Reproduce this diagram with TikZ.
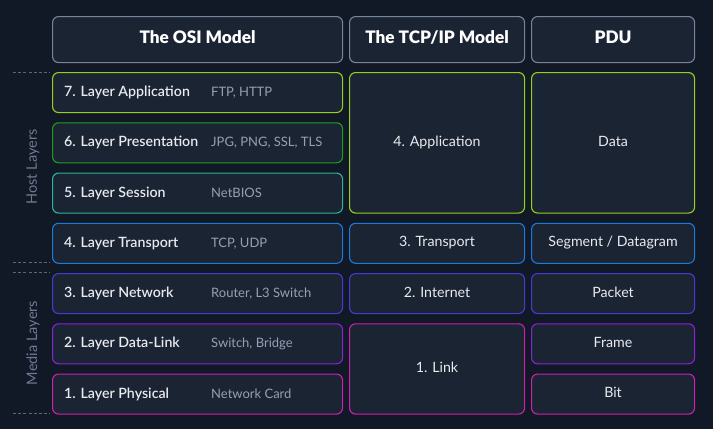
\documentclass[tikz,border=0pt]{standalone}
\usepackage{fontspec}
\setmainfont{Lato}
\newfontfamily\headfont{Lato Black}
\newfontfamily\midfont{Lato Semibold}
\definecolor{bg}{HTML}{111826}
\definecolor{cellfill}{HTML}{1B2433}
\definecolor{headline}{HTML}{7A8499}
\definecolor{cSeven}{HTML}{95D11C}
\definecolor{cSix}{HTML}{1F9E22}
\definecolor{cFive}{HTML}{2DB49A}
\definecolor{cFour}{HTML}{1C7AD8}
\definecolor{cThree}{HTML}{4A3AD2}
\definecolor{cTwo}{HTML}{8A22D8}
\definecolor{cOne}{HTML}{D01EB2}
\definecolor{maintext}{HTML}{E8EAEE}
\definecolor{subtext}{HTML}{97A0B3}
\definecolor{sidetext}{HTML}{6E7A90}
\definecolor{dashcol}{HTML}{5C6679}
\tikzset{
  cell/.style={draw, fill=cellfill, rounded corners=6pt, line width=1.1pt,
    anchor=north west, inner sep=0pt},
  header/.style={cell, draw=headline, minimum height=46pt},
  osi/.style={cell, minimum width=290pt, minimum height=40pt},
  tcp/.style={cell, minimum width=175pt},
  pdu/.style={cell, minimum width=163pt},
  headtext/.style={font=\headfont\fontsize{17.2}{19}\selectfont, text=white,
    text height=0.72em, text depth=0pt, inner sep=0pt},
  lbl/.style={font=\midfont\fontsize{14.2}{16}\selectfont, text=maintext, anchor=west,
    text height=0.72em, text depth=0pt, inner sep=0pt},
  sub/.style={font=\fontsize{13}{15}\selectfont, text=subtext, anchor=west,
    text height=0.72em, text depth=0pt, inner sep=0pt},
  ctr/.style={font=\fontsize{14.2}{16}\selectfont, text=maintext,
    text height=0.72em, text depth=0pt, inner sep=0pt},
  side/.style={font=\fontsize{14.5}{16}\selectfont, text=sidetext, rotate=90},
  dashline/.style={draw=dashcol, line width=0.9pt, dash pattern=on 3pt off 2.2pt},
}
\begin{document}
\begin{tikzpicture}[x=1pt, y=-1pt]
  % canvas
  \fill[bg] (0,0) rectangle (713,429);
  \useasboundingbox (0,0) rectangle (713,429);

  % column headers
  \node[header, minimum width=290pt] (hOSI) at (52,16) {};
  \node[header, minimum width=175pt] (hTCP) at (349,16) {};
  \node[header, minimum width=163pt] (hPDU) at (531,16) {};
  \node[headtext] (hOSIt) at (hOSI.center) {The OSI Model};
  \node[headtext] (hTCPt) at (hTCP.center) {The TCP/IP Model};
  \node[headtext] (hPDUt) at (hPDU.center) {PDU};

  % OSI layers
  \node[osi, draw=cSeven] (l7) at (52,72) {};
  \node[osi, draw=cSix]   (l6) at (52,122.25) {};
  \node[osi, draw=cFive]  (l5) at (52,172.5) {};
  \node[osi, draw=cFour]  (l4) at (52,222.75) {};
  \node[osi, draw=cThree] (l3) at (52,273) {};
  \node[osi, draw=cTwo]   (l2) at (52,323.25) {};
  \node[osi, draw=cOne]   (l1) at (52,373.5) {};

  \node[lbl] (l7a) at ([xshift=12pt, yshift=-0.5pt]l7.west) {7. Layer Application};
  \node[lbl] (l6a) at ([xshift=12pt, yshift=-0.5pt]l6.west) {6. Layer Presentation};
  \node[lbl] (l5a) at ([xshift=12pt, yshift=-0.5pt]l5.west) {5. Layer Session};
  \node[lbl] (l4a) at ([xshift=12pt, yshift=-0.5pt]l4.west) {4. Layer Transport};
  \node[lbl] (l3a) at ([xshift=12pt, yshift=-0.5pt]l3.west) {3. Layer Network};
  \node[lbl] (l2a) at ([xshift=12pt, yshift=-0.5pt]l2.west) {2. Layer Data-Link};
  \node[lbl] (l1a) at ([xshift=12pt, yshift=-0.5pt]l1.west) {1. Layer Physical};

  \node[sub] (l7b) at ([xshift=159pt, yshift=-0.5pt]l7.west) {FTP, HTTP};
  \node[sub] (l6b) at ([xshift=159pt, yshift=-0.5pt]l6.west) {JPG, PNG, SSL, TLS};
  \node[sub] (l5b) at ([xshift=159pt, yshift=-0.5pt]l5.west) {NetBIOS};
  \node[sub] (l4b) at ([xshift=159pt, yshift=-0.5pt]l4.west) {TCP, UDP};
  \node[sub] (l3b) at ([xshift=159pt, yshift=-0.5pt]l3.west) {Router, L3 Switch};
  \node[sub] (l2b) at ([xshift=159pt, yshift=-0.5pt]l2.west) {Switch, Bridge};
  \node[sub] (l1b) at ([xshift=159pt, yshift=-0.5pt]l1.west) {Network Card};

  % TCP/IP layers
  \node[tcp, draw=cSeven, minimum height=140.5pt] (tApp) at (349,72) {};
  \node[tcp, draw=cFour,  minimum height=40pt]    (tTra) at (349,222.75) {};
  \node[tcp, draw=cThree, minimum height=40pt]    (tInt) at (349,273) {};
  \node[tcp, draw=cOne,   minimum height=90.25pt] (tLnk) at (349,323.25) {};
  \node[ctr] (tAppt) at (tApp.center) {4. Application};
  \node[ctr] (tTrat) at (tTra.center) {3. Transport};
  \node[ctr] (tIntt) at (tInt.center) {2. Internet};
  \node[ctr] (tLnkt) at (tLnk.center) {1. Link};

  % protocol data units
  \node[pdu, draw=cSeven, minimum height=140.5pt] (pDat) at (531,72) {};
  \node[pdu, draw=cFour,  minimum height=40pt] (pSeg) at (531,222.75) {};
  \node[pdu, draw=cThree, minimum height=40pt] (pPkt) at (531,273) {};
  \node[pdu, draw=cTwo,   minimum height=40pt] (pFrm) at (531,323.25) {};
  \node[pdu, draw=cOne,   minimum height=40pt] (pBit) at (531,373.5) {};
  \node[ctr] (pDatt) at (pDat.center) {Data};
  \node[ctr] (pSegt) at (pSeg.center) {Segment / Datagram};
  \node[ctr] (pPktt) at (pPkt.center) {Packet};
  \node[ctr] (pFrmt) at (pFrm.center) {Frame};
  \node[ctr] (pBitt) at (pBit.center) {Bit};

  % layer group markers
  \coordinate (hostTopA) at (13,72);
  \coordinate (hostTopB) at (50,72);
  \coordinate (hostBotA) at (13,262.5);
  \coordinate (hostBotB) at (50,262.5);
  \coordinate (mediaTopA) at (13,272.5);
  \coordinate (mediaTopB) at (50,272.5);
  \coordinate (mediaBotA) at (13,413.5);
  \coordinate (mediaBotB) at (50,413.5);
  \draw[dashline] (hostTopA) -- (hostTopB);
  \draw[dashline] (hostBotA) -- (hostBotB);
  \draw[dashline] (mediaTopA) -- (mediaTopB);
  \draw[dashline] (mediaBotA) -- (mediaBotB);
  \node[side] (hostLbl) at (33,167) {Host Layers};
  \node[side] (mediaLbl) at (33,343) {Media Layers};
\end{tikzpicture}
\end{document}
